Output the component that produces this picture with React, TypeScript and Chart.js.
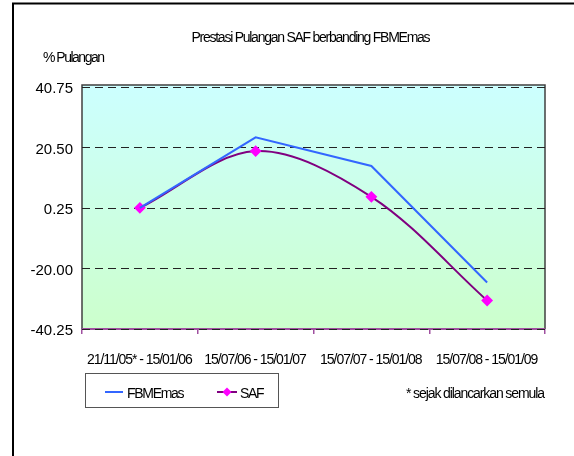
import React, { useEffect, useRef } from "react";
import { Chart, registerables } from "chart.js";

Chart.register(...registerables);

const categories = [
  "21/11/05* - 15/01/06",
  "15/07/06 - 15/01/07",
  "15/07/07 - 15/01/08",
  "15/07/08 - 15/01/09",
];
const seriesNames = ["FBMEmas", "SAF"];
const fbmEmasValues = [0.3, 23.9, 14.3, -24.7];
const safValues = [0.3, 19.3, 4.0, -30.7];
const yTickValues = [-40.25, -20.0, 0.25, 20.5, 40.75];
const titleText = "Prestasi Pulangan SAF berbanding FBMEmas";
const yAxisTitle = "% Pulangan";
const footnoteText = "* sejak dilancarkan semula";

const FONT_FAMILY = "'Liberation Sans', Arial, sans-serif";
const BLUE = "#3366FF";
const PURPLE = "#800080";
const MAGENTA = "#FF00FF";
const AXIS_PURPLE = "#A050A0";

function drawText(
  ctx: CanvasRenderingContext2D,
  text: string,
  x: number,
  y: number,
  align: CanvasTextAlign,
  size: number,
  spacing: number
) {
  ctx.save();
  ctx.font = `${size}px ${FONT_FAMILY}`;
  (ctx as any).letterSpacing = `${spacing}px`;
  ctx.textAlign = "left";
  ctx.textBaseline = "alphabetic";
  ctx.fillStyle = "#000000";
  const w = ctx.measureText(text).width - spacing;
  let sx = x;
  if (align === "center") sx = x - w / 2;
  else if (align === "right") sx = x - w;
  ctx.fillText(text, sx, y);
  ctx.restore();
}

const decorPlugin = {
  id: "decor",
  beforeDraw(chart: any) {
    const { ctx, chartArea } = chart;
    const { left, right, top, bottom } = chartArea;
    ctx.save();
    ctx.fillStyle = "#ffffff";
    ctx.fillRect(0, 0, chart.width, chart.height);
    // outer frame (top + left)
    ctx.strokeStyle = "#000000";
    ctx.lineWidth = 2;
    ctx.beginPath();
    ctx.moveTo(13, chart.height);
    ctx.lineTo(13, 3.5);
    ctx.lineTo(chart.width, 3.5);
    ctx.stroke();
    // plot background gradient
    const g = ctx.createLinearGradient(0, top - 2, 0, bottom);
    g.addColorStop(0, "#CCFFFF");
    g.addColorStop(1, "#CCFFCC");
    ctx.fillStyle = g;
    ctx.fillRect(left, top - 2, right - left, bottom - top + 2);
    // plot border
    ctx.strokeStyle = "#404040";
    ctx.lineWidth = 1.5;
    ctx.beginPath();
    ctx.moveTo(left, bottom);
    ctx.lineTo(left, top - 2);
    ctx.lineTo(right, top - 2);
    ctx.lineTo(right, bottom);
    ctx.stroke();
    // x axis line
    ctx.strokeStyle = AXIS_PURPLE;
    ctx.lineWidth = 2;
    ctx.beginPath();
    ctx.moveTo(left, bottom);
    ctx.lineTo(right, bottom);
    ctx.stroke();
    ctx.restore();
  },
  afterDraw(chart: any) {
    const { ctx } = chart;
    // title, axis title, footnote
    drawText(ctx, titleText, 311, 42, "center", 14, -1.25);
    drawText(ctx, yAxisTitle, 43, 62, "left", 14, -1.5);
    drawText(ctx, footnoteText, 545, 397.5, "right", 14, -1.1);

    // category labels from the x scale
    const xScale = chart.scales.x;
    const labels: string[] = chart.data.labels;
    labels.forEach((lab, i) => {
      drawText(ctx, lab, xScale.getPixelForTick(i), 364, "center", 14, -1.05);
    });

    // legend box
    ctx.save();
    ctx.strokeStyle = "#555555";
    ctx.lineWidth = 1;
    ctx.strokeRect(85.5, 373.5, 193, 34);
    const ds = chart.data.datasets;
    ctx.strokeStyle = ds[0].borderColor;
    ctx.lineWidth = 2;
    ctx.beginPath();
    ctx.moveTo(105, 392);
    ctx.lineTo(123, 392);
    ctx.stroke();
    ctx.strokeStyle = ds[1].borderColor;
    ctx.beginPath();
    ctx.moveTo(217, 392);
    ctx.lineTo(237, 392);
    ctx.stroke();
    ctx.fillStyle = ds[1].pointBackgroundColor;
    ctx.beginPath();
    ctx.moveTo(227, 387.5);
    ctx.lineTo(231.5, 392);
    ctx.lineTo(227, 396.5);
    ctx.lineTo(222.5, 392);
    ctx.closePath();
    ctx.fill();
    ctx.restore();
    drawText(ctx, ds[0].label, 127, 397.5, "left", 14, -1.3);
    drawText(ctx, ds[1].label, 240, 397.5, "left", 14, -1.3);
  },
};

export default function App() {
  const canvasRef = useRef<HTMLCanvasElement | null>(null);

  useEffect(() => {
    if (!canvasRef.current) return;
    const chart = new Chart(canvasRef.current, {
      type: "line",
      data: {
        labels: categories,
        datasets: [
          {
            label: seriesNames[0],
            data: fbmEmasValues,
            borderColor: BLUE,
            backgroundColor: BLUE,
            borderWidth: 2,
            pointRadius: 0,
            tension: 0,
            fill: false,
          },
          {
            label: seriesNames[1],
            data: safValues,
            borderColor: PURPLE,
            backgroundColor: MAGENTA,
            pointBackgroundColor: MAGENTA,
            pointBorderColor: MAGENTA,
            pointStyle: "rectRot",
            pointRadius: 4.5,
            borderWidth: 2,
            tension: 0.33,
            fill: false,
          },
        ],
      },
      options: {
        responsive: false,
        animation: false,
        layout: { padding: { left: 0, right: 29, top: 87, bottom: 0 } },
        plugins: {
          legend: { display: false },
          title: { display: false },
          tooltip: { enabled: false },
        },
        scales: {
          x: {
            type: "category",
            offset: true,
            border: { display: false },
            grid: {
              display: true,
              offset: true,
              drawOnChartArea: false,
              drawTicks: true,
              tickLength: 5,
              color: AXIS_PURPLE,
              lineWidth: 1.5,
            },
            ticks: {
              display: false,
              autoSkip: false,
              maxRotation: 0,
            },
            afterFit(scale: any) {
              scale.height = 127;
            },
          },
          y: {
            type: "linear",
            min: -40.25,
            max: 40.75,
            border: { display: false, dash: [8, 5] },
            grid: {
              color: "#222222",
              lineWidth: 1,
              drawTicks: false,
              borderDash: [8, 5],
            },
            afterBuildTicks(scale: any) {
              scale.ticks = yTickValues.map((v) => ({ value: v }));
            },
            ticks: {
              color: "#000000",
              font: { family: FONT_FAMILY, size: 15 },
              padding: 9,
              labelOffset: 2,
              callback: (value: any) => Number(value).toFixed(2),
            },
            afterFit(scale: any) {
              scale.width = 82;
            },
          },
        },
      } as any,
      plugins: [decorPlugin],
    });
    return () => chart.destroy();
  }, []);

  return (
    <div style={{ position: "fixed", left: 0, top: 0, width: 574, height: 456, background: "#fff" }}>
      <canvas ref={canvasRef} width={574} height={456} style={{ width: 574, height: 456, display: "block" }} />
    </div>
  );
}
